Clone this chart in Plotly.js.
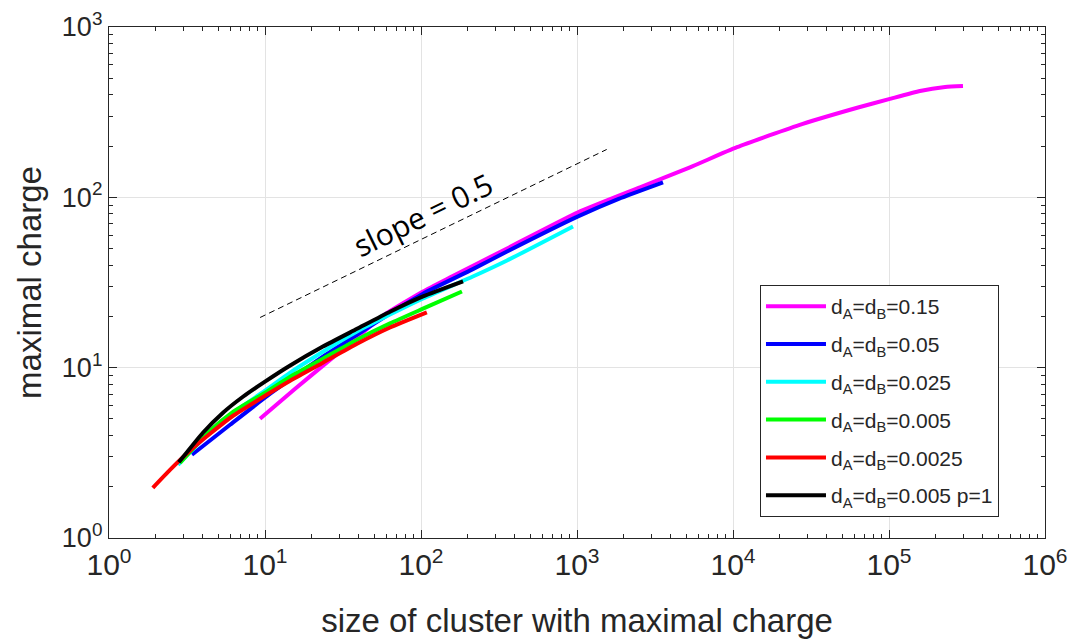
<!DOCTYPE html>
<html>
<head>
<meta charset="utf-8">
<script src="https://cdn.plot.ly/plotly-3.0.1.min.js"></script>
<style>html,body{margin:0;padding:0;background:#fff;}#chart{width:1079px;height:641px;}</style>
</head>
<body>
<div id="chart"></div>
<script>
// ---- data ----
const seriesNames = [
  'd<sub>A</sub>=d<sub>B</sub>=0.15',
  'd<sub>A</sub>=d<sub>B</sub>=0.05',
  'd<sub>A</sub>=d<sub>B</sub>=0.025',
  'd<sub>A</sub>=d<sub>B</sub>=0.005',
  'd<sub>A</sub>=d<sub>B</sub>=0.0025',
  'd<sub>A</sub>=d<sub>B</sub>=0.005 p=1'
];
const seriesColors = ['#ff00ff', '#0000ff', '#00ffff', '#00ff00', '#ff0000', '#000000'];

const magentaX = [9.29, 15.6, 26.1, 38.9, 57.1, 103, 153, 356, 1015, 2535, 5300, 10600, 27700, 64200, 100000, 158000, 229000, 298000];
const magentaY = [5.01, 7.52, 11.1, 15.0, 20.2, 28.0, 33.8, 50.1, 81.6, 114.5, 150, 197, 269, 338, 377, 421, 444, 450];

const blueX = [3.40, 5.97, 10.8, 23.5, 38.9, 63.3, 103, 215, 356, 1015, 1850, 3560];
const blueY = [3.08, 4.62, 7.03, 11.6, 15.6, 20.8, 27.2, 37.9, 48.1, 77.3, 98, 122.5];

const cyanX = [2.77, 4.44, 6.24, 10, 14.5, 23.5, 38.9, 63.3, 103, 215, 356, 943];
const cyanY = [2.69, 4.20, 5.44, 7.32, 9.35, 12.4, 16.3, 20.5, 25.5, 34.3, 42.6, 67.5];

const greenX = [2.85, 4.44, 6.24, 10, 14.5, 23.5, 38.9, 63.3, 103, 183];
const greenY = [2.76, 4.26, 5.51, 7.13, 8.85, 11.3, 14.6, 18.2, 22.2, 28.0];

const redX = [1.91, 2.46, 3.30, 4.44, 6.24, 10, 14.5, 23.5, 38.9, 63.3, 109];
const redY = [1.97, 2.51, 3.25, 4.09, 5.22, 6.84, 8.39, 10.7, 13.8, 17.2, 21.1];

const blackX = [2.8, 4.0, 5.38, 7.22, 10, 14.5, 23.5, 38.9, 63.3, 103, 186];
const blackY = [2.78, 4.15, 5.44, 6.75, 8.28, 10.3, 13.3, 16.9, 21.3, 26.2, 32.1];

const slopeX = [9.3, 1550];
const slopeY = [19.7, 191];
const slopeLabel = 'slope = 0.5';
const slopeLabelPos = [103, 79];

const xTickVals = [1, 10, 100, 1000, 10000, 100000, 1000000];
const xTickText = ['10<sup>0</sup>', '10<sup>1</sup>', '10<sup>2</sup>', '10<sup>3</sup>', '10<sup>4</sup>', '10<sup>5</sup>', '10<sup>6</sup>'];
const yTickVals = [1, 10, 100, 1000];
const yTickText = ['10<sup>0</sup>', '10<sup>1</sup>', '10<sup>2</sup>', '10<sup>3</sup>'];
const xTitle = 'size of cluster with maximal charge';
const yTitle = 'maximal charge';

// ---- build ----
const xs = [magentaX, blueX, cyanX, greenX, redX, blackX];
const ys = [magentaY, blueY, cyanY, greenY, redY, blackY];
const traces = xs.map((x, i) => ({
  x: x, y: ys[i], type: 'scatter', mode: 'lines', name: seriesNames[i],
  line: {color: seriesColors[i], width: 4, shape: 'spline', smoothing: 0.5},
  legendgroup: 'g' + i
}));
traces.push({
  x: slopeX, y: slopeY, type: 'scatter', mode: 'lines', showlegend: false,
  line: {color: '#000', width: 1, dash: '6px,4px'}, hoverinfo: 'skip'
});

function minorVals(lo, hi) {
  const v = [];
  for (let e = lo; e < hi; e++) for (let k = 2; k <= 9; k++) v.push(k * Math.pow(10, e));
  return v;
}

const FONT = 'Liberation Sans, Arial, sans-serif';
const axisCommon = {
  type: 'log', tickmode: 'array', ticks: 'inside', ticklen: 8, tickwidth: 1,
  tickcolor: '#262626', showline: true, linecolor: '#262626', linewidth: 1.2,
  mirror: 'ticks', showgrid: true, gridcolor: '#e3e3e3', gridwidth: 1,
  zeroline: false
};

const layout = {
  width: 1079, height: 641,
  margin: {l: 109, r: 34, t: 27, b: 103},
  paper_bgcolor: '#fff', plot_bgcolor: '#fff',
  showlegend: true,
  xaxis: Object.assign({}, axisCommon, {
    range: [0, 6], tickvals: xTickVals, ticktext: xTickText,
    tickfont: {family: FONT, size: 30, color: '#262626'},
    minor: {tickmode: 'array', tickvals: minorVals(0, 6), ticks: 'inside', ticklen: 4, tickcolor: '#262626', showgrid: false},
    title: {text: xTitle, font: {family: FONT, size: 33, color: '#262626'}, standoff: 28}
  }),
  yaxis: Object.assign({}, axisCommon, {
    range: [0, 3], tickvals: yTickVals, ticktext: yTickText,
    tickfont: {family: FONT, size: 27, color: '#262626'},
    minor: {tickmode: 'array', tickvals: minorVals(0, 3), ticks: 'inside', ticklen: 4, tickcolor: '#262626', showgrid: false},
    title: {text: yTitle, font: {family: FONT, size: 33, color: '#262626'}, standoff: 10}
  }),
  legend: {
    x: 0.6955, y: 0.495, xanchor: 'left', yanchor: 'top',
    bgcolor: '#fff', bordercolor: '#262626', borderwidth: 1,
    font: {family: FONT, size: 21, color: '#262626'},
    traceorder: 'grouped', tracegroupgap: 7.5, itemwidth: 60
  },
  annotations: [{
    x: Math.log10(slopeLabelPos[0]), y: Math.log10(slopeLabelPos[1]), xref: 'x', yref: 'y',
    text: slopeLabel, showarrow: false, textangle: -26,
    font: {family: 'Open Sans, sans-serif', size: 30, color: '#000'}
  }]
};

Plotly.newPlot('chart', traces, layout, {displayModeBar: false, staticPlot: true});
</script>
</body>
</html>
